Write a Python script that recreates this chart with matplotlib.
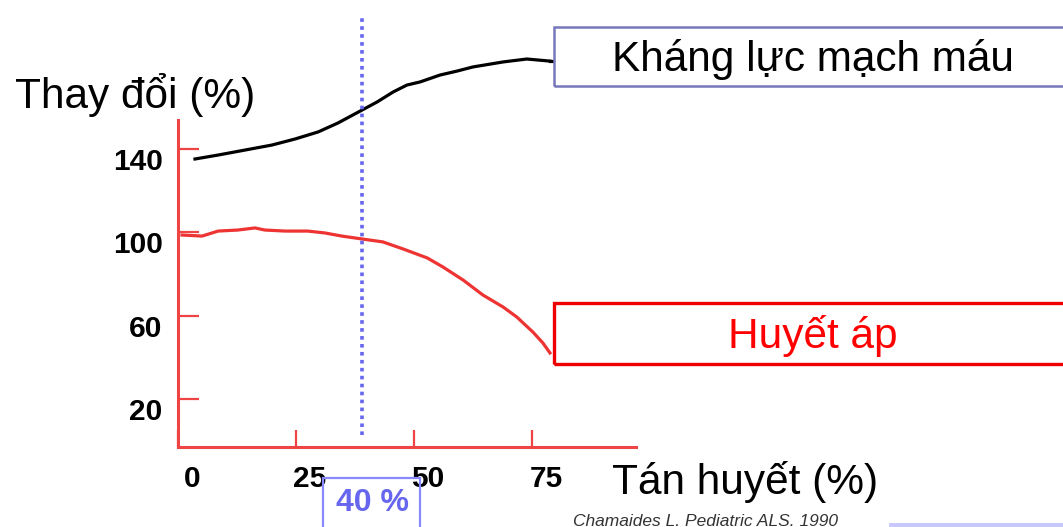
import matplotlib.pyplot as plt
from matplotlib.patches import Rectangle
import matplotlib.transforms as mtransforms

plt.rcParams['font.family'] = ['Liberation Sans', 'DejaVu Sans']

# Tán huyết (%) vs thay đổi (%)
resist_x = [3.6, 8.5, 14.2, 19.9, 24.8, 29.7, 33.9, 39.0, 42.2, 45.6, 48.5, 51.3, 55.5,
            59.1, 62.5, 68.9, 73.9, 78.8]
resist_y = [135.2, 137.1, 139.5, 141.9, 144.8, 148.2, 152.5, 158.7, 162.6, 167.4, 170.7, 172.2, 175.5,
            177.4, 179.4, 181.8, 183.2, 182.2]

bp_x = [0.85, 5.1, 8.5, 12.7, 16.3, 18.4, 22.7, 27.5, 31.1, 34.7, 39.0, 43.4, 47.7, 52.8,
        56.1, 60.4, 64.6, 68.9, 71.8, 75.2, 77.3, 78.8]
bp_y = [98.7, 98.2, 100.6, 101.1, 102.1, 101.1, 100.6, 100.6, 99.7, 98.2, 96.8, 95.4, 92.0, 87.7,
        83.4, 77.1, 69.9, 64.1, 59.3, 52.1, 46.9, 42.1]

x_ticks = [0, 25, 50, 75]
y_ticks = [20, 60, 100, 140]
marker_x = 39

W, H = 1063, 527
fig = plt.figure(figsize=(W / 100, H / 100), dpi=100)
ax = fig.add_axes([0, 0, 1, 1])
ax.patch.set_alpha(0)

# data <-> pixel mapping of the original slide
ax.set_xlim(-178 / 4.72, (W - 178) / 4.72)
ax.set_ylim(140 - (H - 149) / 2.083, 140 + 149 / 2.083)

red = "#ee4444"
ax.plot(resist_x, resist_y, color="black", linewidth=2.3, solid_joinstyle="round")
ax.plot(bp_x, bp_y, color="#ee3333", linewidth=2.3, solid_joinstyle="round")
ax.plot([resist_x[-1], 79.5], [resist_y[-1], resist_y[-1]], color="black", linewidth=2.3)
ax.plot([marker_x, marker_x], [2.7, 205], color="#6666ee", linewidth=2.6, linestyle=(0, (1, 1.2)))

for s in ["top", "right"]:
    ax.spines[s].set_visible(False)
ax.spines["left"].set_position(("data", 0))
ax.spines["bottom"].set_position(("data", -3))
ax.spines["left"].set_bounds(-3, 154)
ax.spines["bottom"].set_bounds(0, 97)
for s in ["left", "bottom"]:
    ax.spines[s].set_color(red)
    ax.spines[s].set_linewidth(2.2)

ax.set_xticks(x_ticks)
ax.set_xticklabels([str(v) for v in x_ticks])
ax.set_yticks(y_ticks)
ax.set_yticklabels([str(v) for v in y_ticks])
ax.tick_params(axis="y", direction="in", length=15, width=1.6, color=red, pad=11, labelsize=21.5)
ax.tick_params(axis="x", direction="in", length=12, width=1.6, color=red, pad=13, labelsize=21.5)
for lab in ax.get_xticklabels() + ax.get_yticklabels():
    lab.set_fontweight("bold")
for lab in ax.get_xticklabels():
    lab.set_transform(lab.get_transform() + mtransforms.ScaledTranslation(0.14, 0, fig.dpi_scale_trans))
for lab in ax.get_yticklabels():
    lab.set_transform(lab.get_transform() + mtransforms.ScaledTranslation(0, -0.10, fig.dpi_scale_trans))


def px(x, y):
    return x / W, 1 - y / H


# label boxes
fig.patches.append(Rectangle(px(554, 86), (W - 554 + 5) / W, 59 / H, transform=fig.transFigure,
                             fill=False, edgecolor="#7777bb", linewidth=1.8))
fig.patches.append(Rectangle(px(554, 364), (W - 554 + 5) / W, 61 / H, transform=fig.transFigure,
                             fill=False, edgecolor="#ee0000", linewidth=2.4))
fig.patches.append(Rectangle(px(323, 530), 97 / W, 52 / H, transform=fig.transFigure,
                             fill=False, edgecolor="#8888ff", linewidth=1.6))
fig.patches.append(Rectangle(px(889, 528), (W - 889) / W, 5 / H, transform=fig.transFigure,
                             facecolor="#c8c8ff", edgecolor="none"))

fig.text(*px(813, 60), "Kháng lực mạch máu", fontsize=30.5, ha="center", va="center", color="black")
fig.text(*px(813, 336), "Huyết áp", fontsize=30.5, ha="center", va="center", color="#ff0000")
fig.text(*px(15, 95), "Thay đổi (%)", fontsize=30.5, ha="left", va="center", color="black")
fig.text(*px(612, 482), "Tán huyết (%)", fontsize=30.5, ha="left", va="center", color="black")
fig.text(*px(372, 503), "40 %", fontsize=23, fontweight="bold", ha="center", va="center", color="#6666ee")
fig.text(*px(573, 521), "Chamaides L. Pediatric ALS. 1990", fontsize=12.5, style="italic",
         ha="left", va="center", color="#333333")

fig.savefig("out.png", dpi=100)
